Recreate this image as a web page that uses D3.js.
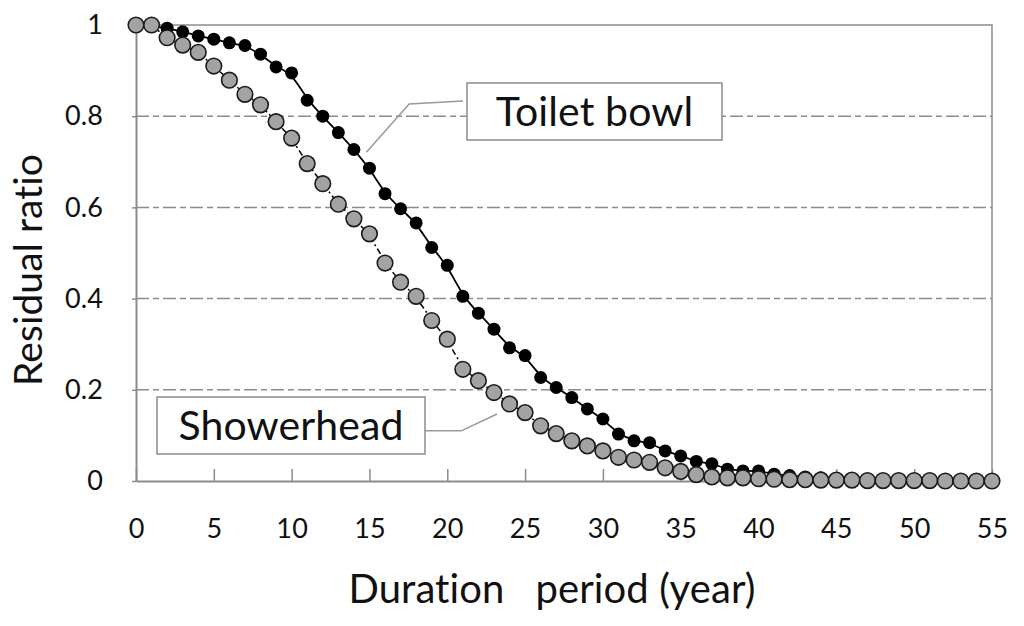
<!DOCTYPE html>
<html>
<head>
<meta charset="utf-8">
<script src="https://cdn.jsdelivr.net/npm/d3@7"></script>
<style>
  body { margin: 0; background: #fff; }
  text {
    font-family: Lato, "Open Sans", sans-serif;
    fill: #111;
    font-variant-ligatures: none;
    letter-spacing: 0.1px;
  }
</style>
</head>
<body>
<div id="chart"></div>
<script>
// duration in years, one point per year
const years = d3.range(0, 56);

// residual ratio
const toiletBowl = [
  1.0, 0.998, 0.993, 0.985, 0.976, 0.969, 0.961, 0.955, 0.936, 0.908,
  0.895, 0.835, 0.800, 0.764, 0.727, 0.686, 0.630, 0.597, 0.566, 0.512,
  0.473, 0.405, 0.368, 0.333, 0.292, 0.275, 0.227, 0.205, 0.183, 0.158,
  0.136, 0.103, 0.088, 0.084, 0.066, 0.055, 0.043, 0.038, 0.026, 0.022,
  0.022, 0.015, 0.012, 0.009, 0.007, 0.006, 0.005, 0.004, 0.003, 0.003,
  0.002, 0.002, 0.001, 0.001, 0.001, 0.0
];
const showerhead = [
  1.0, 1.0, 0.972, 0.956, 0.940, 0.910, 0.879, 0.848, 0.825, 0.788,
  0.752, 0.696, 0.652, 0.607, 0.575, 0.542, 0.478, 0.436, 0.405, 0.352,
  0.311, 0.245, 0.220, 0.194, 0.169, 0.150, 0.121, 0.104, 0.088, 0.077,
  0.066, 0.052, 0.046, 0.041, 0.029, 0.021, 0.014, 0.009, 0.007, 0.007,
  0.005, 0.004, 0.003, 0.003, 0.002, 0.002, 0.002, 0.001, 0.001, 0.001,
  0.001, 0.001, 0.0, 0.0, 0.0, 0.0
];

const xTicks = [0, 5, 10, 15, 20, 25, 30, 35, 40, 45, 50, 55];
const yTicks = [0, 0.2, 0.4, 0.6, 0.8, 1];
const yTickLabels = ["0", "0.2", "0.4", "0.6", "0.8", "1"];

const svgWidth = 1024;
const svgHeight = 626;
const margin = { top: 25, right: 32, bottom: 145, left: 136 };
const width = svgWidth - margin.left - margin.right;
const height = svgHeight - margin.top - margin.bottom;

const svg = d3.select("#chart")
  .append("svg")
  .attr("width", svgWidth)
  .attr("height", svgHeight);

const g = svg.append("g")
  .attr("transform", `translate(${margin.left},${margin.top})`);

const x = d3.scaleLinear().domain([0, 55]).range([0, width]);
const y = d3.scaleLinear().domain([0, 1]).range([height, 0]);

// dashed grid lines
g.append("g")
  .selectAll("line")
  .data(yTicks.filter(d => d > 0 && d < 1))
  .enter()
  .append("line")
  .attr("x1", 0)
  .attr("x2", width)
  .attr("y1", d => y(d))
  .attr("y2", d => y(d))
  .attr("stroke", "#8c8c8c")
  .attr("stroke-width", 1.5)
  .attr("stroke-dasharray", "13,4,6,4");

// top and right frame
g.append("path")
  .attr("d", `M0,${y(1)}H${width}V${height}`)
  .attr("fill", "none")
  .attr("stroke", "#8c8c8c")
  .attr("stroke-width", 1.5);

// x axis, ticks pointing inside
const xAxis = g.append("g")
  .attr("transform", `translate(0,${height})`)
  .call(d3.axisBottom(x).tickValues(xTicks).tickSizeInner(-12).tickSizeOuter(0).tickPadding(38));
xAxis.select(".domain").attr("stroke", "#8c8c8c").attr("stroke-width", 2);
xAxis.selectAll(".tick line").attr("stroke", "#8c8c8c").attr("stroke-width", 1.5);
xAxis.selectAll("text").style("font-size", "27px").attr("fill", "#111");

// y axis
const yAxis = g.append("g")
  .call(d3.axisLeft(y).tickValues(yTicks).tickFormat((d, i) => yTickLabels[i]).tickSizeInner(4).tickSizeOuter(0).tickPadding(29));
yAxis.select(".domain").attr("stroke", "#8c8c8c").attr("stroke-width", 2);
yAxis.selectAll(".tick line").attr("stroke", "#8c8c8c").attr("stroke-width", 1.5);
yAxis.selectAll("text").style("font-size", "27px").attr("fill", "#111");

// axis titles
svg.append("text")
  .attr("x", 552)
  .attr("y", 603)
  .attr("text-anchor", "middle")
  .style("font-size", "40px")
  .style("white-space", "pre")
  .text("Duration   period (year)");

svg.append("text")
  .attr("transform", "translate(42,270) rotate(-90)")
  .attr("text-anchor", "middle")
  .style("font-size", "39px")
  .text("Residual ratio");

const toiletData = years.map((d, i) => ({ year: d, value: toiletBowl[i] }));
const showerData = years.map((d, i) => ({ year: d, value: showerhead[i] }));

const lineGenerator = d3.line()
  .curve(d3.curveBasis)
  .x(d => x(d.year))
  .y(d => y(d.value));

g.append("path")
  .datum(toiletData)
  .attr("fill", "none")
  .attr("stroke", "#000")
  .attr("stroke-width", 1.8)
  .attr("d", lineGenerator);

g.append("path")
  .datum(showerData)
  .attr("fill", "none")
  .attr("stroke", "#000")
  .attr("stroke-width", 1.5)
  .attr("stroke-dasharray", "6,3,2,3")
  .attr("d", lineGenerator);

g.append("g")
  .selectAll("circle")
  .data(toiletData)
  .enter()
  .append("circle")
  .attr("cx", d => x(d.year))
  .attr("cy", d => y(d.value))
  .attr("r", 6.5)
  .attr("fill", "#000");

g.append("g")
  .selectAll("circle")
  .data(showerData)
  .enter()
  .append("circle")
  .attr("cx", d => x(d.year))
  .attr("cy", d => y(d.value))
  .attr("r", 7.8)
  .attr("fill", "#a3a3a3")
  .attr("stroke", "#1a1a1a")
  .attr("stroke-width", 1.6);

// callouts
const callouts = [
  { label: "Toilet bowl", box: [467, 83, 255, 57], leader: [[14.8, 0.721], [17.55, 0.827]] },
  { label: "Showerhead", box: [157, 397, 268, 57], leader: [[23.2, 0.147], [20.9, 0.11]] }
];

callouts.forEach(c => {
  const [bx, by, bw, bh] = c.box;
  const pts = c.leader.map(p => [x(p[0]) + margin.left, y(p[1]) + margin.top]);
  const end = c.label === "Toilet bowl" ? [bx - 4, by + 18] : [bx + bw - 4, pts[1][1]];
  svg.append("path")
    .attr("d", d3.line()([...pts, end]))
    .attr("fill", "none")
    .attr("stroke", "#999")
    .attr("stroke-width", 1.5);
  svg.append("rect")
    .attr("x", bx)
    .attr("y", by)
    .attr("width", bw)
    .attr("height", bh)
    .attr("fill", "#fff")
    .attr("stroke", "#8c8c8c")
    .attr("stroke-width", 1.5);
  svg.append("text")
    .attr("x", bx + bw / 2)
    .attr("y", by + bh / 2 + 14)
    .attr("text-anchor", "middle")
    .style("font-size", "41px")
    .text(c.label);
});
</script>
</body>
</html>
